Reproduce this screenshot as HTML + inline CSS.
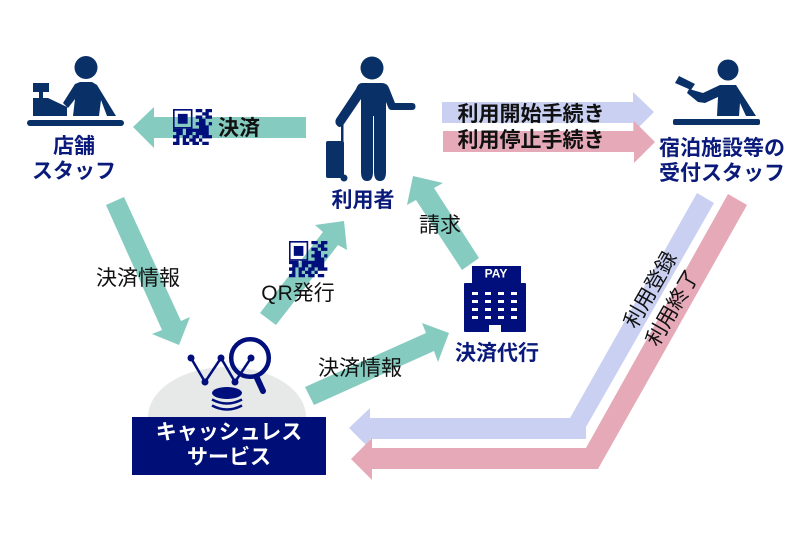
<!DOCTYPE html>
<html lang="ja"><head><meta charset="utf-8"><style>
html,body{margin:0;padding:0;background:#fff;width:800px;height:534px;overflow:hidden}
svg{display:block}
text{font-family:"Liberation Sans","Noto Sans CJK JP",sans-serif;text-anchor:middle;dominant-baseline:central;font-size:21px}
.n{font-weight:700;fill:#0a1a7a}
.b{font-weight:700;fill:#111}
.r{fill:#111;font-size:21px}
</style></head><body>
<svg width="800" height="534" viewBox="0 0 800 534" xmlns="http://www.w3.org/2000/svg">
<defs><g id="qr" fill="#000f7c">
<path fill-rule="evenodd" d="M0 0h6v6h-6zM.5 .5v5h5v-5zM1.5 1.5h3v3h-3z"/>
<path d="M7 0h2v1h-2zM10 0h2v1h-2zM9 1h2v1h-2zM7 2h2v1h-2zM10 2h2v1h-2zM8 3h2v1h-2zM7 4h3v1h-3zM11 4h1v1h-1zM8 5h3v1h-3zM0 6h3v1h-3zM4 6h7v1h-7zM1 7h2v1h-2zM4 7h2v1h-2zM7 7h4v1h-4zM0 8h2v1h-2zM3 8h2v1h-2zM6 8h2v1h-2zM9 8h3v1h-3zM1 9h1v1h-1zM3 9h1v1h-1zM5 9h2v1h-2zM8 9h1v1h-1zM0 10h2v1h-2zM3 10h2v1h-2zM6 10h2v1h-2zM9 10h2v1h-2z"/>
</g></defs>

<!-- teal arrows -->
<g fill="#85cbc0">
<polygon points="306,117 306,138 154,138 154,148 133,127 154,107 154,117"/>
<polygon points="106,205 124,197 181,321 190,317 179,345 152,334 162,330"/>
<polygon points="260,313 276,325 338,245 347,250 344,221 315,225 323,232"/>
<polygon points="462,270 479,258 434,188 443,183 413,176 407,205 416,200"/>
<polygon points="305,387 314,405 434,351 438,362 449,333 422,323 426,333"/>
</g>

<!-- purple & pink arrows -->
<polygon fill="#c9d0f2" points="442,102 633,102 633,92 654,112 633,133 633,123 442,123"/>
<polygon fill="#e5a9b8" points="443,131 634,131 634,121 655,142 634,163 634,152 443,152"/>
<polygon fill="#c9d0f2" points="697,193 714,203 586,427 586,439 370,439 370,449 349,428 370,408 370,418 570,418"/>
<polygon fill="#e5a9b8" points="728,194 747,205 598,469 372,469 372,480 351,459 372,438 372,448 586,448"/>

<!-- shop staff -->
<g fill="#0a3068">
<circle cx="86" cy="67.500" r="11.500"/>
<polygon points="75,84 80,82 92,82 97,85 116,116 107,116 101,100 99,116 73,116 75,99 68,108 63,103"/>
<polygon points="33,98 48,98 67,107 67,116 33,116"/>
<rect x="33" y="83" width="16" height="9"/><rect x="39" y="92" width="4" height="6"/>
<rect x="27" y="120" width="97" height="6" rx="3"/>
</g>

<!-- traveller -->
<g fill="#0a3068">
<circle cx="372" cy="68" r="11.500"/>
<path d="M361 83h21q5 0 7 5l6 15h17q3.500 0 3.500 3.500t-3.500 3.500h-20q-3 0-4-3l-2-5v70q0 9-6 9t-6-9v-56h-1v56q0 9-6 9t-6-9v-73l-17 25q-2 3-5 3-5-3-3-8l20-30q2-6 6-6z"/>
<rect x="341" y="123" width="2.500" height="20"/>
<rect x="326" y="141" width="18" height="37" rx="2"/>
<circle cx="344" cy="178" r="3.500"/>
</g>

<!-- receptionist -->
<g fill="#0a3068">
<circle cx="728" cy="70" r="10.500"/>
<polygon points="679,76 695,84 691,90 675,83"/>
<polygon points="689,89 703,93 720,85 736,85 756,116 746,116 740,103 739,116 717,116 718,97 705,103 698,102 687,93"/>
<rect x="673" y="119" width="87" height="6" rx="2"/>
</g>

<!-- cashless service -->
<path d="M148 417A79 50 0 0 1 306 417z" fill="#e6e9e8"/>
<g fill="none" stroke="#000f7c">
<polyline points="191,358 205,382 221,358 235,382 251,358" stroke-width="2.500"/>
<circle cx="250" cy="358" r="18.800" stroke-width="4.500"/>
<line x1="257" y1="378" x2="263" y2="391" stroke-width="6" stroke-linecap="round"/>
<path d="M212 399.500q15 8 30 0M212 405.500q15 8 30 0" stroke-width="2.500"/>
</g>
<g fill="#000f7c">
<circle cx="191" cy="358" r="3.500"/><circle cx="205" cy="382" r="3.500"/><circle cx="221" cy="358" r="3.500"/><circle cx="235" cy="382" r="3.500"/><circle cx="251" cy="358" r="3.500"/>
<ellipse cx="227" cy="393" rx="15" ry="6"/>
</g>
<rect x="132" y="417" width="194" height="58" fill="#000f78"/>

<!-- pay building -->
<g fill="#000f7c">
<rect x="472" y="266" width="49" height="19"/>
<rect x="464" y="283" width="62" height="49" rx="1"/>
</g>
<g fill="#fff">
<rect x="489" y="325" width="12" height="7"/>
<path d="M472 292h6v3h-6zM485 292h6v3h-6zM498 292h6v3h-6zM511 292h6v3h-6zM472 300h6v3h-6zM485 300h6v3h-6zM498 300h6v3h-6zM511 300h6v3h-6zM472 308h6v3h-6zM485 308h6v3h-6zM498 308h6v3h-6zM511 308h6v3h-6zM472 316h6v3h-6zM485 316h6v3h-6zM498 316h6v3h-6zM511 316h6v3h-6z"/>
</g>
<text x="496" y="273.500" style="font-size:12px" font-weight="700" fill="#fff">PAY</text>

<!-- QR codes -->
<use href="#qr" transform="translate(173 109) scale(3.25 3.27)"/>
<use href="#qr" transform="translate(289 241) scale(3.2 3.3)"/>

<!-- labels -->
<g transform="translate(0 1.500)">
<text x="229" y="431" font-weight="700" fill="#fff">キャッシュレス</text>
<text x="229" y="456" font-weight="700" fill="#fff">サービス</text>
<text class="b" x="239" y="127">決済</text>
<text class="n" x="74" y="145">店舗</text>
<text class="n" x="74" y="170">スタッフ</text>
<text class="n" x="363" y="199">利用者</text>
<text class="b" x="531" y="113">利用開始手続き</text>
<text class="b" x="531" y="139">利用停止手続き</text>
<text class="n" x="722" y="147">宿泊施設等の</text>
<text class="n" x="722" y="172">受付スタッフ</text>
<text class="n" x="497" y="352">決済代行</text>
<text class="r" x="138" y="277">決済情報</text>
<text class="r" x="360" y="367">決済情報</text>
<text class="r" x="298" y="292">QR発行</text>
<text class="r" x="440" y="224">請求</text>
</g>
<text class="r" transform="translate(651 290) rotate(-60)">利用登録</text>
<text class="r" transform="translate(673 308) rotate(-60)">利用終了</text>
</svg>
</body></html>
